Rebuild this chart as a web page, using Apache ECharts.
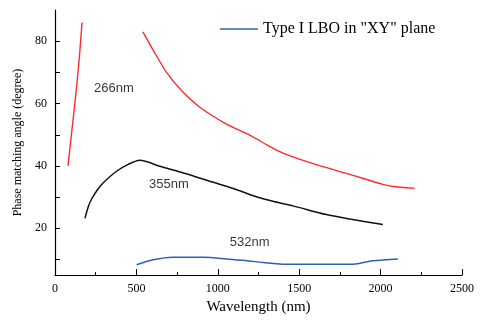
<!DOCTYPE html>
<html lang="en">
<head>
  <meta charset="UTF-8">
  <title>Type I LBO phase matching</title>
  <script src="https://cdn.jsdelivr.net/npm/echarts@6/dist/echarts.min.js"></script>
</head>
<body style="margin:0">
  <div id="main" style="width:483px;height:320px;"></div>
  <script>
    // wavelength (nm) , angle (degree)
    var uv266a = [[80, 40], [105, 52], [130, 64], [150, 75], [166, 86]];
    var uv266b = [[540, 83], [610, 76.5], [685, 70], [780, 64], [890, 58.8], [1050, 53.5], [1196, 49.9],
      [1300, 46.8], [1400, 44.1], [1605, 40.4], [1810, 37.3], [2013, 34.1], [2076, 33.4], [2209, 32.8]];
    var uv355 = [[184, 23.2], [205, 27], [225, 29.4], [260, 32.3], [297, 34.6], [378, 38.3], [450, 40.5],
      [521, 41.8], [644, 39.9], [800, 37.6], [951, 35.1], [1100, 32.7], [1237, 30.1], [1350, 28.5],
      [1462, 27.2], [1667, 24.4], [1810, 23], [2014, 21.2]];
    var vis532 = [[501, 8.3], [603, 9.9], [726, 10.7], [910, 10.7], [1053, 10.2], [1217, 9.4],
      [1421, 8.5], [1830, 8.5], [1953, 9.6], [2106, 10.2]];
    var curveLabels = [['266nm', 362, 65], ['355nm', 700, 34], ['532nm', 1196, 15.6]];
    var yTicks = [10, 20, 30, 40, 50, 60, 70, 80];
    var yLabels = [20, 40, 60, 80];

    var serif = 'Liberation Serif';
    var myChart = echarts.init(document.getElementById('main'));
    var option = {
      animation: false,
      backgroundColor: '#fff',
      grid: { left: 55, right: 21, top: 10, bottom: 38, containLabel: false },
      legend: {
        data: ['Type I LBO in "XY" plane'],
        left: 215, top: 16,
        icon: 'rect', itemWidth: 38, itemHeight: 1.5, itemGap: 6,
        textStyle: { fontFamily: serif, fontSize: 16, color: '#000' }
      },
      xAxis: {
        type: 'value', min: 0, max: 2500, interval: 500,
        name: 'Wavelength (nm)', nameLocation: 'middle', nameGap: 23,
        nameTextStyle: { fontFamily: serif, fontSize: 15, color: '#000' },
        axisLine: { lineStyle: { color: '#000', width: 1.2 } },
        axisTick: { inside: true, length: 6, lineStyle: { color: '#000' } },
        minorTick: { show: true, splitNumber: 2, length: 3, lineStyle: { color: '#000' } },
        axisLabel: { fontFamily: serif, fontSize: 12, color: '#000', margin: 8,
          formatter: function (v) { return String(v); } },
        splitLine: { show: false }
      },
      yAxis: {
        type: 'value', min: 5, max: 90,
        name: 'Phase matching angle (degree)', nameLocation: 'middle', nameGap: 27,
        nameTextStyle: { fontFamily: serif, fontSize: 12, color: '#000' },
        axisLine: { show: true, lineStyle: { color: '#000', width: 1.2 } },
        axisTick: { show: true, inside: true, length: 5, customValues: yTicks, lineStyle: { color: '#000' } },
        axisLabel: { fontFamily: serif, fontSize: 12, color: '#000', margin: 8, customValues: yLabels },
        splitLine: { show: false }
      },
      series: [
        { name: '266a', type: 'line', data: uv266a, showSymbol: false, smooth: 0.2,
          lineStyle: { color: '#ff2a2a', width: 1.4 }, itemStyle: { color: '#ff2a2a' } },
        { name: '266b', type: 'line', data: uv266b, showSymbol: false, smooth: 0.2,
          lineStyle: { color: '#ff2a2a', width: 1.4 }, itemStyle: { color: '#ff2a2a' } },
        { name: '355', type: 'line', data: uv355, showSymbol: false, smooth: 0.3,
          lineStyle: { color: '#111', width: 1.5 }, itemStyle: { color: '#111' } },
        { name: 'Type I LBO in "XY" plane', type: 'line', data: vis532, showSymbol: false, smooth: 0.3,
          lineStyle: { color: '#2f5fb3', width: 1.5 }, itemStyle: { color: '#2f5fb3' } },
        { name: 'labels', type: 'scatter', symbolSize: 0, silent: true,
          data: curveLabels.map(function (d) { return { value: [d[1], d[2]], name: d[0] }; }),
          label: { show: true, position: 'inside', formatter: '{b}',
            fontFamily: 'Liberation Sans', fontSize: 13, color: '#000' } }
      ]
    };
    myChart.setOption(option);
  </script>
</body>
</html>
